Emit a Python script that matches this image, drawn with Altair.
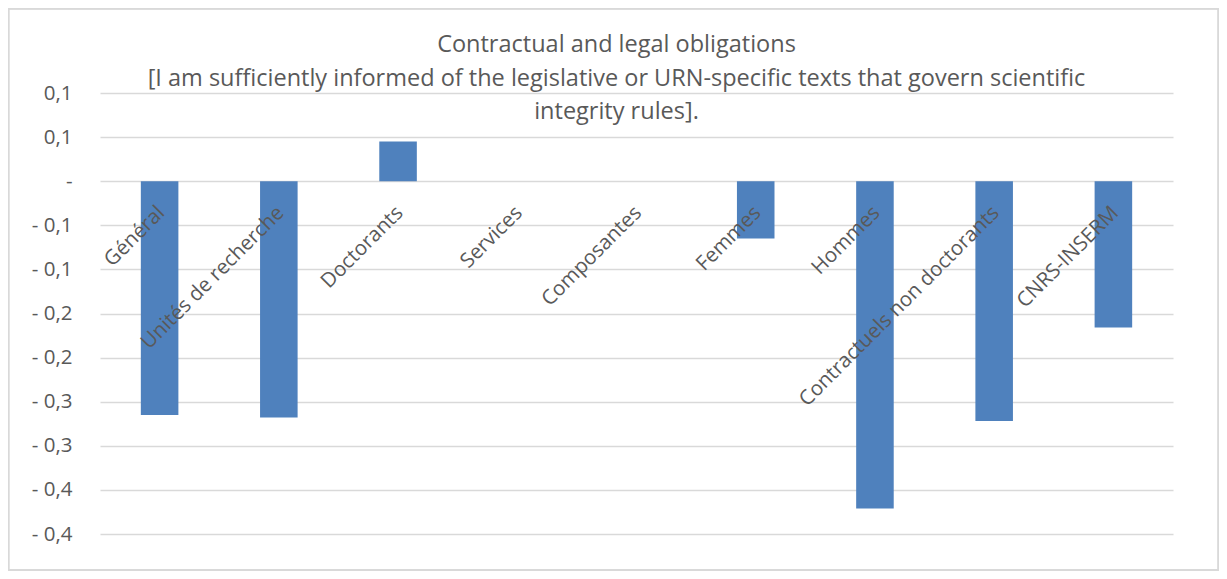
import altair as alt
import pandas as pd

categories = ["Général", "Unités de recherche", "Doctorants", "Services", "Composantes",
              "Femmes", "Hommes", "Contractuels non doctorants", "CNRS-INSERM"]
values = [-0.265, -0.268, 0.045, None, None, -0.065, -0.371, -0.272, -0.166]
tick_values = [0.1, 0.05, 0.0, -0.05, -0.1, -0.15, -0.2, -0.25, -0.3, -0.35, -0.4]
title_lines = ["Contractual and legal obligations",
               "[I am sufficiently informed of the legislative or URN-specific texts that govern scientific",
               "integrity rules]."]

FONT = "Open Sans"
GREY = "#595959"
W, H = 1073, 441

df = pd.DataFrame({"cat": categories, "val": values, "zero": [0.0] * len(categories)})

xenc = alt.X("cat:N", sort=categories,
             scale=alt.Scale(paddingInner=0.685, paddingOuter=0.3425), axis=None)
yscale = alt.Scale(domain=[-0.4, 0.1], nice=False, zero=False)

label_expr = ("datum.value == 0 ? '-' : (datum.value < 0 ? '- ' : '') + "
              "replace(format(round(abs(datum.value) * 10 + 0.0001) / 10, '.1f'), '.', ',')")

bars = alt.Chart(df).mark_bar(color="#4F81BD").encode(
    x=xenc,
    y=alt.Y("val:Q", scale=yscale,
            axis=alt.Axis(values=tick_values, labelExpr=label_expr, title=None,
                          domain=False, ticks=False, grid=True, gridColor="#D9D9D9",
                          gridWidth=1.3, labelPadding=28, labelFontSize=20.5,
                          labelColor=GREY, labelFont=FONT)),
)

labels = alt.Chart(df).mark_text(
    angle=315, align="right", baseline="alphabetic", dx=-19, dy=27.6,
    font=FONT, fontSize=20.5, color=GREY,
).encode(
    x=xenc,
    y=alt.Y("zero:Q", scale=yscale),
    text="cat:N",
)

border = alt.Chart(df).mark_rect(fill=None, stroke="#D9D9D9", strokeWidth=1.3).encode(
    x=alt.value(-91.5), x2=alt.value(W + 45.5),
    y=alt.value(-84.5), y2=alt.value(H + 36),
)

chart = alt.layer(border, bars, labels).properties(
    width=W, height=H,
    autosize=alt.AutoSizeParams(type="none"),
    padding={"left": 92, "top": 85, "right": 46, "bottom": 37},
    title=alt.TitleParams(text=title_lines, anchor="middle", frame="group",
                          font=FONT, fontSize=23.5, fontWeight="normal", color=GREY,
                          lineHeight=33.5, baseline="top", dx=-20, dy=120),
).configure_view(stroke=None)

chart.save("out.html", embed_options={"renderer": "svg", "actions": False})
